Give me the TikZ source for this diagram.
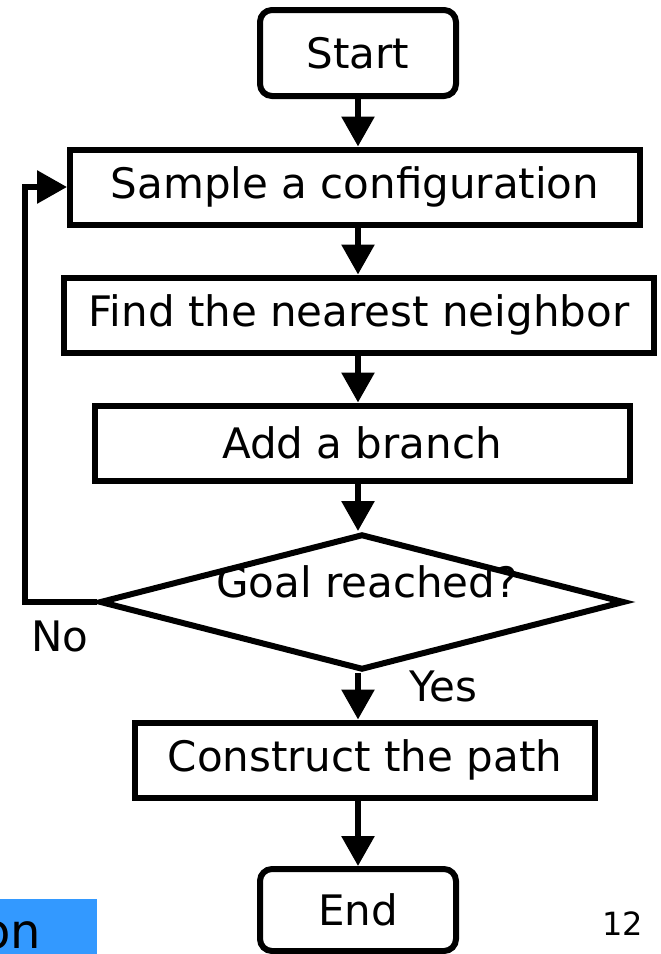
\documentclass[tikz,border=0pt]{standalone}
\usepackage{fontspec}
\setmainfont{DejaVu Sans}
\usetikzlibrary{shapes.geometric,arrows.meta}
\definecolor{hlblue}{RGB}{51,153,255}
\tikzset{
  box/.style={draw=black, line width=6pt, rectangle, inner sep=0pt, minimum height=75pt,
    font=\fontsize{42}{50}\selectfont},
  term/.style={box, rounded corners=12pt, minimum width=196pt},
  dec/.style={draw=black, line width=6pt, diamond, aspect=3.86, inner sep=0pt,
    minimum width=525pt, minimum height=136pt},
  lbl/.style={font=\fontsize{42}{50}\selectfont, inner sep=0pt},
  arr/.style={line width=6pt, -{Triangle[length=30pt,width=32pt]}}
}
\begin{document}
\begin{tikzpicture}[x=1pt,y=-1pt]
\useasboundingbox (0,0) rectangle (661,954);
\node[term, minimum height=86pt] (start) at (358,53) {Start};
\node[box, minimum width=570pt] (sample) at (355,187) {Sample a configuration};
\node[box, minimum width=590pt] (find) at (359,315) {Find the nearest neighbor};
\node[box, minimum width=535pt] (add) at (362,443) {Add a branch};
\node[dec] (goal) at (362,602) {};
\node[lbl] (goaltxt) at (367,582) {Goal reached?};
\node[box, minimum width=460pt] (construct) at (365,760) {Construct the path};
\node[term, minimum height=82pt] (end) at (358,910) {End};
\coordinate (c1) at (25,602);
\coordinate (c2) at (25,187);
\draw[arr] (start.south) -- (sample.north -| start);
\draw[arr] (sample.south -| start) -- (find.north -| start);
\draw[arr] (find.south -| start) -- (add.north -| start);
\draw[arr] (add.south -| start) -- (goal.north -| start);
\draw[arr] (goal.south -| start) -- (construct.north -| start);
\draw[arr] (construct.south -| start) -- (end.north);
\draw[arr, line join=miter] (goal.west) -- (c1) -- (c2) -- (sample.west);
\node[lbl] (no) at (60,636) {No};
\node[lbl] (yes) at (443,686) {Yes};
\fill[hlblue] (0,899) rectangle (97,954);
\node[lbl, anchor=base east, font=\fontsize{48}{56}\selectfont] (on) at (41,948) {on};
\node[inner sep=0pt, font=\fontsize{32}{38}\selectfont] (pg) at (623,924) {12};
\end{tikzpicture}
\end{document}
